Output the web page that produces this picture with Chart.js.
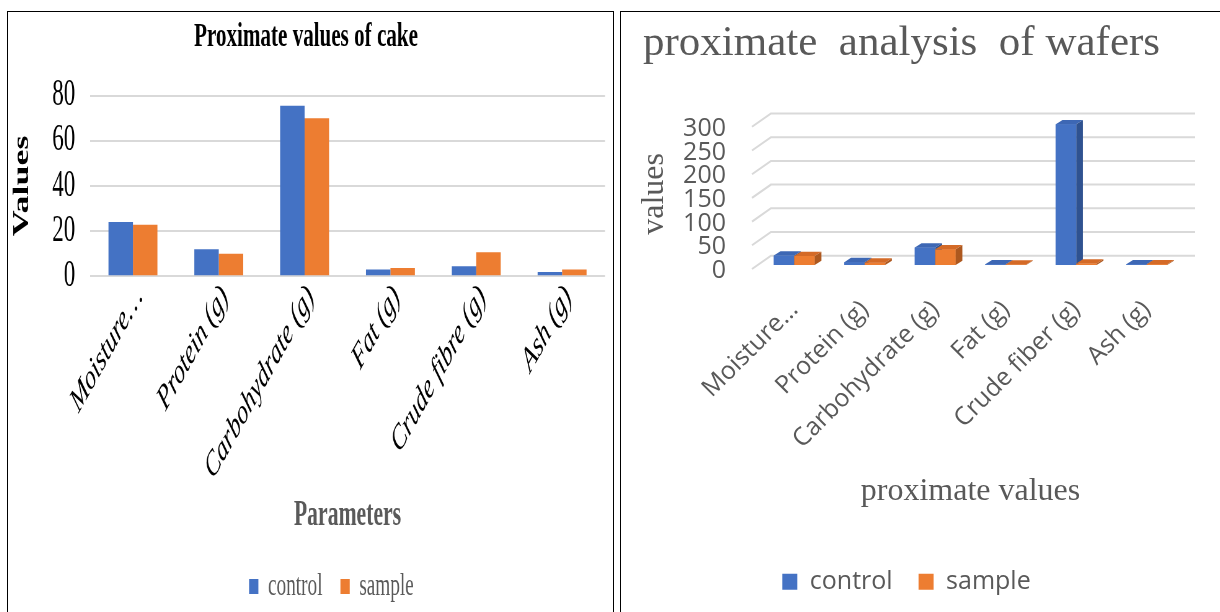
<!DOCTYPE html>
<html>
<head>
<meta charset="utf-8">
<script src="https://cdn.jsdelivr.net/npm/chart.js@4.4.1/dist/chart.umd.min.js"></script>
<style>
html,body{margin:0;padding:0;background:#fff;width:1220px;height:612px;overflow:hidden;position:relative}
.panel{position:absolute;border:1px solid #000;box-sizing:border-box}
#pL{left:7px;top:11px;width:607px;height:620px}
#pR{left:620px;top:11px;width:620px;height:620px}
#wL{position:absolute;left:7px;top:12px;width:979px;height:600px;transform:scaleX(0.62);transform-origin:0 0}
#wR{position:absolute;left:621px;top:12px;width:582px;height:600px}
</style>
</head>
<body>
<div class="panel" id="pL"></div>
<div class="panel" id="pR"></div>
<div id="wL"><canvas id="cL"></canvas></div>
<div id="wR"><canvas id="cR"></canvas></div>
<script>
// ---- data ----
const seriesNames = ['control', 'sample'];
const cakeCategories = ['Moisture…', 'Protein (g)', 'Carbohydrate (g)', 'Fat (g)', 'Crude fibre (g)', 'Ash (g)'];
const cakeControl = [24, 12, 75.5, 3, 4.5, 1.9];
const cakeSample = [22.8, 10, 70, 3.7, 10.7, 3];
const cakeTickStep = 20;
const cakeMax = 80;

const waferCategories = ['Moisture…', 'Protein (g)', 'Carbohydrate (g)', 'Fat (g)', 'Crude fiber (g)', 'Ash (g)'];
const waferControl = [20, 6, 37, 1.5, 297, 1.5];
const waferSample = [19, 5, 33, 1.2, 3, 1.5];
const waferTickStep = 50;
const waferMax = 300;

const BLUE = '#4472c4', ORANGE = '#ed7d31';
const GRAY = '#595959';

function legendShift(dx) {
  return {
    id: 'legendShift',
    afterLayout(chart) {
      if (chart.legend) { chart.legend.left += dx; chart.legend.right += dx; }
    }
  };
}

// ---- left: cake ----
new Chart(document.getElementById('cL'), {
  type: 'bar',
  data: {
    labels: cakeCategories,
    datasets: [
      { label: seriesNames[0], data: cakeControl, backgroundColor: BLUE },
      { label: seriesNames[1], data: cakeSample, backgroundColor: ORANGE }
    ]
  },
  options: {
    responsive: true, maintainAspectRatio: false, animation: false,
    layout: { padding: { left: 0, right: 14.5, top: 0, bottom: 0 } },
    datasets: { bar: { categoryPercentage: 0.57, barPercentage: 1 } },
    plugins: {
      title: { display: true, text: 'Proximate values of cake', color: '#000',
        font: { family: 'Liberation Serif', size: 34, weight: 'bold', lineHeight: 1.2 },
        padding: { top: 5, bottom: 37.8 } },
      legend: { position: 'bottom',
        labels: { boxWidth: 15, boxHeight: 15, padding: 29, color: GRAY,
          font: { family: 'Liberation Serif', size: 31 } } },
      tooltip: { enabled: false }
    },
    scales: {
      x: {
        grid: { display: false, drawTicks: false }, border: { display: false },
        ticks: { color: '#000', font: { family: 'Liberation Serif', size: 35, style: 'italic' },
          minRotation: 48, maxRotation: 48, padding: 1, labelOffset: 10, autoSkip: false },
        title: { display: true, text: 'Parameters', color: GRAY,
          font: { family: 'Liberation Serif', size: 35, weight: 'bold' }, padding: { top: 0, bottom: 5 } },
        afterFit(s) { s.height = 265.7; }
      },
      y: {
        min: 0, max: cakeMax,
        ticks: { stepSize: cakeTickStep, color: '#000', font: { family: 'Liberation Serif', size: 37 },
          padding: 24, autoSkip: false },
        grid: { color: '#d9d9d9', lineWidth: 2, drawTicks: false }, border: { display: false },
        title: { display: true, text: 'Values', color: '#000',
          font: { family: 'Liberation Serif', size: 36, weight: 'bold' }, padding: { top: 3, bottom: 0 } },
        afterFit(s) { s.width = 133.9; }
      }
    }
  },
  plugins: [legendShift(41)]
});

// ---- right: wafers (3D look) ----
const DX = 6.7, DY = 4.3;
const faceCols = [
  { front: BLUE, top: '#3d67b4', side: '#2f5290' },
  { front: ORANGE, top: '#d46a27', side: '#ad581f' }
];
const bars3d = {
  id: 'bars3d',
  beforeDatasetsDraw(chart) {
    const { ctx, chartArea: a, scales: { y } } = chart;
    ctx.save();
    ctx.strokeStyle = '#d9d9d9'; ctx.lineWidth = 2;
    y.ticks.forEach(t => {
      const yy = y.getPixelForValue(t.value);
      ctx.beginPath();
      ctx.moveTo(a.left - 7, yy + 4);
      ctx.lineTo(a.left + 12, yy - 9.3);
      ctx.lineTo(a.right + 13, yy - 9.3);
      ctx.stroke();
    });
    ctx.restore();
  },
  afterDatasetsDraw(chart) {
    const ctx = chart.ctx;
    const metas = chart.data.datasets.map((d, i) => chart.getDatasetMeta(i));
    const n = chart.data.labels.length;
    ctx.save();
    for (let i = 0; i < n; i++) {
      metas.forEach((m, d) => {
        const el = m.data[i];
        const { x, y, base, width } = el.getProps(['x', 'y', 'base', 'width'], true);
        const l = x - width / 2, r = x + width / 2;
        const c = faceCols[d];
        ctx.fillStyle = c.front;
        ctx.fillRect(l, y, width, base - y);
        ctx.fillStyle = c.top;
        ctx.beginPath();
        ctx.moveTo(l, y); ctx.lineTo(l + DX, y - DY); ctx.lineTo(r + DX, y - DY); ctx.lineTo(r, y);
        ctx.closePath(); ctx.fill();
        ctx.fillStyle = c.side;
        ctx.beginPath();
        ctx.moveTo(r, y); ctx.lineTo(r + DX, y - DY); ctx.lineTo(r + DX, base - DY); ctx.lineTo(r, base);
        ctx.closePath(); ctx.fill();
      });
    }
    ctx.restore();
  }
};

new Chart(document.getElementById('cR'), {
  type: 'bar',
  data: {
    labels: waferCategories,
    datasets: [
      { label: seriesNames[0], data: waferControl, backgroundColor: BLUE },
      { label: seriesNames[1], data: waferSample, backgroundColor: ORANGE }
    ]
  },
  options: {
    responsive: true, maintainAspectRatio: false, animation: false,
    layout: { padding: { left: 0, right: 21, top: 0, bottom: 7.8 } },
    datasets: { bar: { categoryPercentage: 0.58, barPercentage: 1 } },
    plugins: {
      title: { display: true, text: 'proximate  analysis  of wafers', color: GRAY,
        font: { family: 'Liberation Serif', size: 43, weight: 'normal', lineHeight: 1.2 },
        padding: { top: 6, bottom: 53.2 } },
      legend: { position: 'bottom',
        labels: { boxWidth: 15, boxHeight: 16, padding: 26, color: GRAY,
          font: { family: 'Open Sans', size: 25 } } },
      tooltip: { enabled: false }
    },
    scales: {
      x: {
        grid: { display: false, drawTicks: false }, border: { display: false },
        ticks: { color: GRAY, font: { family: 'Open Sans', size: 25 },
          minRotation: 45, maxRotation: 45, padding: 30, autoSkip: false },
        title: { display: true, text: 'proximate values', color: GRAY,
          font: { family: 'Liberation Serif', size: 32 }, padding: { top: 0, bottom: 32 } },
        afterFit(s) { s.height = 278.2; }
      },
      y: {
        min: 0, max: waferMax,
        ticks: { stepSize: waferTickStep, color: GRAY, font: { family: 'Open Sans', size: 25 },
          padding: 33, labelOffset: 6, autoSkip: false },
        grid: { display: false, drawTicks: false }, border: { display: false },
        title: { display: true, text: 'values', color: GRAY,
          font: { family: 'Liberation Serif', size: 32 }, padding: { top: 14.8, bottom: 0 } },
        afterFit(s) { s.width = 138; }
      }
    }
  },
  plugins: [bars3d, legendShift(5)]
});
</script>
</body>
</html>
